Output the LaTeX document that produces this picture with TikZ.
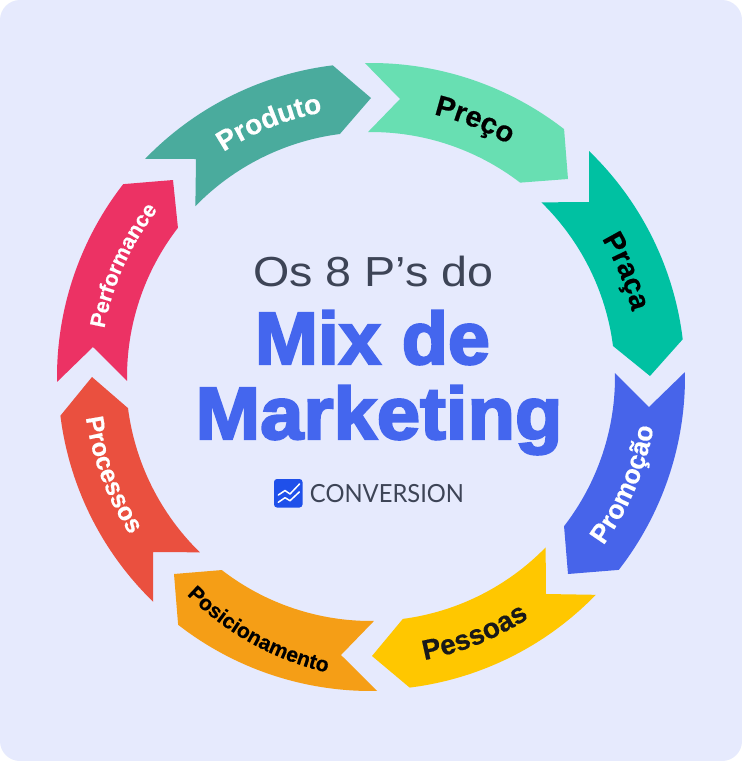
\documentclass[tikz,border=0pt]{standalone}
\usepackage{fontspec}
\setmainfont{Liberation Sans}
\usetikzlibrary{decorations.text}
\newfontfamily\heavyfont[FakeBold=3]{Liberation Sans Bold}
\newfontfamily\boldfont[FakeBold=0.5]{Liberation Sans Bold}
\newfontfamily\logofont{Lato}
\definecolor{bgc}{HTML}{E6EAFD}
\definecolor{cproduto}{HTML}{4AAB9D}
\definecolor{cpreco}{HTML}{68DFB2}
\definecolor{cpraca}{HTML}{00C1A2}
\definecolor{cpromo}{HTML}{4764EA}
\definecolor{cpessoas}{HTML}{FFC700}
\definecolor{cposic}{HTML}{F59E16}
\definecolor{cproc}{HTML}{EA503F}
\definecolor{cperf}{HTML}{EC3264}
\definecolor{titleblue}{HTML}{4466EE}
\definecolor{titlegrey}{HTML}{3D4456}
\definecolor{logoblue}{HTML}{1F50EA}
\newcommand{\lbl}[3]{|\boldfont\fontsize{#1}{#1}\selectfont\color{#2}|#3}
\tikzset{
  seg/.style={fill=#1,draw=none},
  arctext/.style={decorate,decoration={text along path,text={#1},text align=center}},
  titlelabel/.style={inner sep=0pt,anchor=base,text=titleblue},
}
\begin{document}
\begin{tikzpicture}[x=1pt,y=-1pt]
\useasboundingbox (0,0) rectangle (742,761);
\fill[white] (0,0) rectangle (742,761);
\fill[bgc,rounded corners=20pt] (0,0) rectangle (742,761);
\begin{scope}[shift={(371,377)}]
\fill[seg=cproduto] (224:314) arc[start angle=224,end angle=263,radius=314] -- (0,-279) -- (262.7:245) arc[start angle=262.7,end angle=224.2,radius=245] -- (-175,-218) -- cycle;
\fill[seg=cpreco] (268.9:314) arc[start angle=268.9,end angle=307.8,radius=315] -- (197,-198) -- (307.5:245) arc[start angle=307.5,end angle=269.3,radius=245] -- (29,-278) -- cycle;
\fill[seg=cpraca] (314:314) arc[start angle=314,end angle=353.1,radius=314] -- (279,-1) -- (352.7:244) arc[start angle=352.7,end angle=314.3,radius=244] -- (218,-175) -- cycle;
\fill[seg=cpromo] (-0.9:314) arc[start angle=-0.9,end angle=37.9,radius=314] -- (197,197) -- (37.7:244) arc[start angle=37.7,end angle=-0.9,radius=244] -- (278,30) -- cycle;
\fill[seg=cpessoas] (44.1:313) arc[start angle=44.1,end angle=82.9,radius=313] -- (1,279) -- (82.5:244) arc[start angle=82.5,end angle=44.3,radius=244] -- (175,217) -- cycle;
\fill[seg=cposic] (88.9:314) arc[start angle=88.9,end angle=127.9,radius=314] -- (-197,197) -- (127.7:244) arc[start angle=127.7,end angle=89.3,radius=244] -- (-30,278) -- cycle;
\fill[seg=cproc] (134.1:313) arc[start angle=134.1,end angle=172.9,radius=313] -- (-279,0) -- (172.7:245) arc[start angle=172.7,end angle=134.3,radius=245] -- (-218,175) -- cycle;
\fill[seg=cperf] (179.1:314) arc[start angle=179.1,end angle=217.9,radius=314] -- (-198,-197) -- (217.7:244) arc[start angle=217.7,end angle=179.1,radius=244] -- (-278,-30) -- cycle;
% curved labels
\path[arctext={\lbl{28}{white}{Produto}}] (218.2:269) arc[start angle=218.2,end angle=278.2,radius=269];
\path[arctext={\lbl{29}{black}{Preço}}] (262:270) arc[start angle=262,end angle=322,radius=270];
\path[arctext={\lbl{29}{black}{Praça}}] (307.5:269) arc[start angle=307.5,end angle=367.5,radius=269];
\path[arctext={\lbl{26.5}{white}{Promoção}}] (53:287) arc[start angle=53,end angle=-7,radius=287];
\path[arctext={\lbl{28}{black!90}{Pessoas}}] (98:288) arc[start angle=98,end angle=38,radius=288];
\begin{scope}[shift={(22,11)}]
\path[arctext={\lbl{21}{black}{Posicionamento}}] (149:292) arc[start angle=149,end angle=89,radius=292];
\end{scope}
\path[arctext={\lbl{25}{white}{Processos}}] (189.3:288) arc[start angle=189.3,end angle=129.3,radius=288];
\path[arctext={\lbl{21.5}{white}{Performance}}] (174.2:271) arc[start angle=174.2,end angle=234.2,radius=271];
\end{scope}
% centre text
\node[titlelabel,text=titlegrey,font=\fontsize{42}{42}\selectfont,xscale=1.11] (t1) at (373.5,286) {Os 8 P’s do};
\node[titlelabel,font=\heavyfont\fontsize{74}{74}\selectfont,xscale=1.02] (t2) at (372.5,364) {Mix de};
\node[titlelabel,font=\heavyfont\fontsize{74}{74}\selectfont,xscale=1.05] (t3) at (379,439) {Marketing};
% logo
\fill[logoblue,rounded corners=3pt] (274,479) rectangle (302.5,507.5);
\draw[white,line width=1.5pt,line cap=round,line join=round] (278.3,495) -- (285,490.5) -- (290,494) -- (299.5,484);
\draw[white,line width=1.5pt,line cap=round,line join=round] (278.3,502.3) -- (285,497.7) -- (290,500.7) -- (299.3,492);
\node[inner sep=0pt,anchor=base,text=titlegrey,font=\logofont\fontsize{25}{25}\selectfont,xscale=0.95] (logotext) at (387,502) {CONVERSION};
\end{tikzpicture}
\end{document}
